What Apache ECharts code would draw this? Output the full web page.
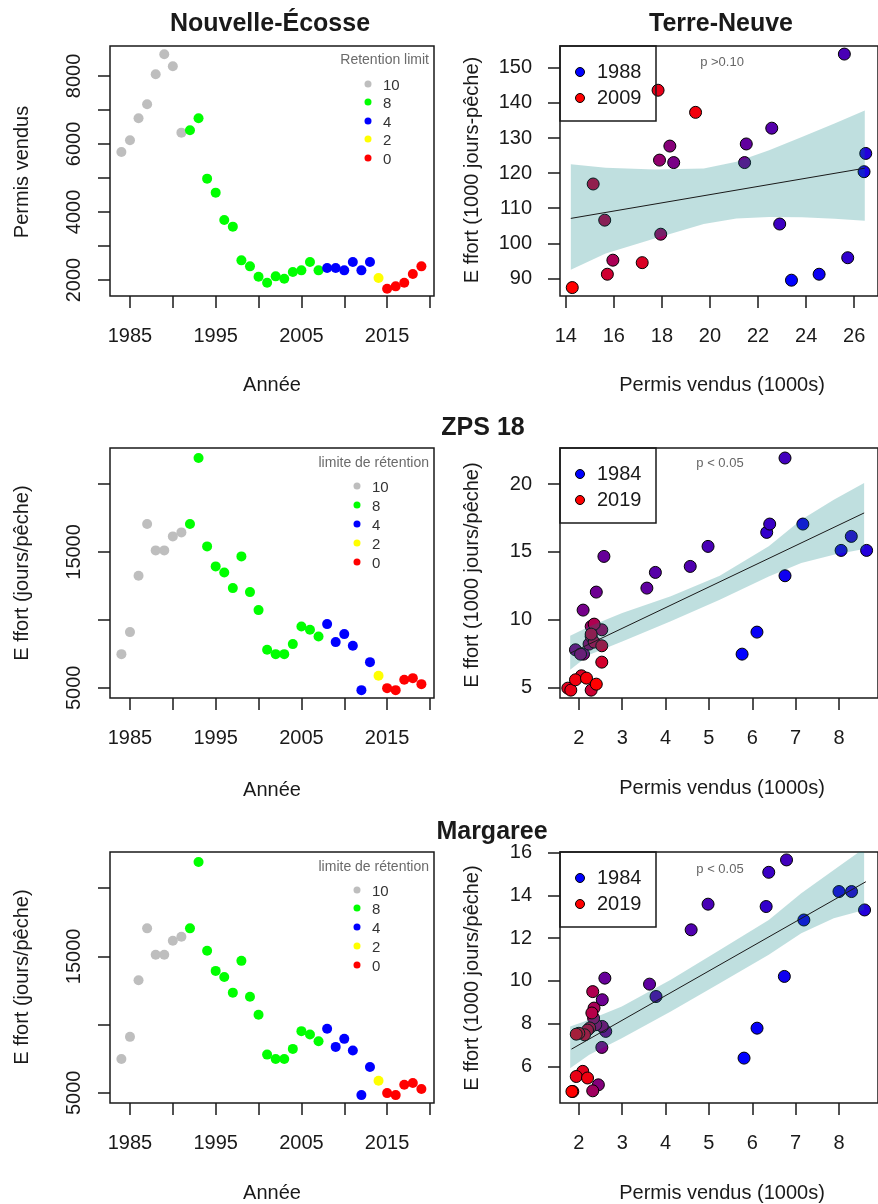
<!DOCTYPE html>
<html>
<head>
<meta charset="utf-8">
<title>Permis vendus et effort</title>
<script src="https://cdn.jsdelivr.net/npm/echarts@6/dist/echarts.min.js"></script>
<style>
    html, body { margin: 0; padding: 0; background: #fff; overflow: hidden; }
    #chart { width: 878px; height: 1204px; }
</style>
</head>
<body>
<div id="chart"></div>
<script>
(function () {
    'use strict';

    // ---- data ----
    var years = [1984, 1985, 1986, 1987, 1988, 1989, 1990, 1991, 1992, 1993,
        1994, 1995, 1996, 1997, 1998, 1999, 2000, 2001, 2002, 2003,
        2004, 2005, 2006, 2007, 2008, 2009, 2010, 2011, 2012, 2013,
        2014, 2015, 2016, 2017, 2018, 2019];
    var retention = [10, 10, 10, 10, 10, 10, 10, 10, 8, 8,
        8, 8, 8, 8, 8, 8, 8, 8, 8, 8,
        8, 8, 8, 8, 4, 4, 4, 4, 4, 4,
        2, 0, 0, 0, 0, 0];
    // Nouvelle-Ecosse, permis vendus
    var nsPermits = [5765, 6108, 6755, 7167, 8049, 8637, 8284, 6333, 6402, 6755,
        4980, 4569, 3765, 3569, 2578, 2402, 2098, 1922, 2108, 2039,
        2235, 2284, 2529, 2284, 2353, 2353, 2284, 2529, 2284, 2529,
        2059, 1745, 1814, 1922, 2176, 2402];
    // ZPS 18, effort (jours/peche)
    var zpsEffort = [7479, 9099, 13248, 17052, 15113, 15113, 16145, 16439, 17052, 21913,
        15408, 13935, 13493, 12339, 14671, 12045, 10719, 7798, 7479, 7479,
        8216, 9517, 9271, 8780, 9688, 8363, 8952, 8093, 4828, 6890,
        5884, 4975, 4828, 5589, 5712, 5270];
    // Margaree, effort (jours/peche)
    var margEffort = [7479, 9099, 13248, 17052, 15113, 15113, 16145, 16439, 17052, 21913,
        15408, 13935, 13493, 12339, 14671, 12045, 10719, 7798, 7479, 7479,
        8216, 9517, 9271, 8780, 9688, 8363, 8952, 8093, 4828, 6890,
        5884, 4975, 4828, 5589, 5712, 5270];

    var retentionLevels = [10, 8, 4, 2, 0];
    var retentionColors = ['#BEBEBE', '#00FF00', '#0000FF', '#FFFF00', '#FF0000'];

    // Terre-Neuve scatter
    var tnYears = [1988, 1989, 1990, 1991, 1992, 1993, 1994, 1995, 1996, 1997, 1998,
        1999, 2000, 2001, 2002, 2003, 2004, 2005, 2006, 2007, 2008, 2009];
    var tnPermits = [23.39, 24.54, 26.41, 26.48, 25.73, 22.90, 25.59, 22.57, 21.51, 21.44, 18.49,
        18.33, 17.90, 17.95, 15.96, 15.62, 15.14, 15.73, 17.18, 17.84, 19.40, 14.27];
    var tnEffort = [89.5, 91.2, 120.4, 125.6, 95.9, 105.5, 153.9, 132.8, 128.3, 123.0, 123.0,
        127.7, 123.7, 102.6, 95.2, 106.6, 116.9, 91.2, 94.5, 143.6, 137.3, 87.4];
    var tnBandX = [14.21, 15.66, 17.70, 19.74, 21.10, 22.46, 23.82, 25.18, 26.44];
    var tnBandLo = [92.5, 97.1, 101.4, 105.5, 107.1, 107.5, 107.4, 107.0, 106.4];
    var tnBandHi = [122.5, 121.5, 121.0, 121.3, 123.2, 126.5, 130.3, 134.1, 137.8];
    var tnFitX = [14.21, 26.44];
    var tnFitY = [107.1, 121.4];

    // ZPS 18 band and fit
    var zpsBandX = [1.80, 2.24, 3.00, 4.12, 5.25, 6.38, 7.13, 7.88, 8.58];
    var zpsBandLo = [6.33, 7.43, 8.41, 9.89, 11.48, 13.20, 14.18, 14.80, 15.21];
    var zpsBandHi = [8.83, 9.52, 10.50, 11.73, 13.25, 15.41, 17.37, 18.85, 20.07];
    var zpsFitX = [1.80, 8.58];
    var zpsFitY = [7.55, 17.87];

    // Margaree scatter
    var margPermits = [5.81, 6.11, 6.74, 7.19, 8.00, 8.59, 8.29, 6.32, 6.38, 6.79,
        4.98, 4.59, 3.78, 3.63, 2.60, 2.54, 2.62, 2.53, 2.45, 2.54,
        2.39, 2.34, 2.32, 2.35, 2.32, 2.30, 2.25, 2.20, 2.13, 2.00,
        1.94, 2.09, 1.94, 2.20, 1.86, 1.84];
    var margScatterEffort = [6.39, 7.79, 10.21, 12.85, 14.18, 13.32, 14.18, 13.48, 15.08, 15.66,
        13.59, 12.39, 9.27, 9.85, 10.13, 9.12, 7.64, 6.89, 5.14, 7.87,
        7.95, 8.26, 4.86, 8.73, 9.50, 8.50, 7.80, 7.70, 7.48, 7.55,
        7.51, 5.77, 5.53, 5.46, 4.83, 4.83];
    var margBandX = [1.80, 2.24, 2.99, 4.12, 5.25, 6.38, 7.13, 7.88, 8.58];
    var margBandLo = [5.92, 6.55, 7.32, 8.57, 9.89, 11.22, 12.23, 12.93, 13.32];
    var margBandHi = [7.87, 8.18, 8.80, 10.05, 11.45, 12.85, 14.10, 15.19, 16.20];
    var margFitX = [1.83, 8.62];
    var margFitY = [6.81, 14.64];

    // ---- helpers ----
    var FONT = 'Liberation Sans, Arial, sans-serif';
    var INK = '#1a1a1a';
    var BAND = 'rgba(0,128,128,0.25)';

    var rampColor = function (t) {
        return 'rgb(' + Math.round(255 * t) + ',0,' + Math.round(255 * (1 - t)) + ')';
    };

    var plainNumber = function (v) {
        return String(v);
    };

    var makeAxis = function (gridIndex, min, max, ticks, labels, rotate, margin) {
        return {
            type: 'value',
            gridIndex: gridIndex,
            min: min,
            max: max,
            axisLine: { show: false },
            splitLine: { show: false },
            axisTick: {
                show: true,
                inside: false,
                length: 12,
                customValues: ticks,
                lineStyle: { color: INK, width: 1.5 }
            },
            axisLabel: {
                customValues: labels,
                formatter: plainNumber,
                rotate: rotate,
                margin: margin,
                fontSize: 20,
                fontFamily: FONT,
                color: INK
            }
        };
    };

    var timePoints = function (values) {
        return years.map(function (y, i) {
            return {
                value: [y, values[i]],
                itemStyle: { color: retentionColors[retentionLevels.indexOf(retention[i])] }
            };
        });
    };

    var scatterPoints = function (xs, ys, yrs, y0, y1) {
        return xs.map(function (x, i) {
            return {
                value: [x, ys[i]],
                itemStyle: { color: rampColor((yrs[i] - y0) / (y1 - y0)) }
            };
        });
    };

    var bandSeries = function (idx, bx, lo, hi) {
        return {
            type: 'custom',
            xAxisIndex: idx,
            yAxisIndex: idx,
            z: 3,
            silent: true,
            clip: true,
            data: bx.map(function (x, i) { return [x, lo[i], hi[i]]; }),
            encode: { x: 0, y: [1, 2] },
            renderItem: function (params, api) {
                if (params.dataIndex !== 0) {
                    return;
                }
                var pts = [];
                for (var i = 0; i < bx.length; i++) {
                    pts.push(api.coord([bx[i], hi[i]]));
                }
                for (var j = bx.length - 1; j >= 0; j--) {
                    pts.push(api.coord([bx[j], lo[j]]));
                }
                var cs = params.coordSys;
                return {
                    type: 'polygon',
                    shape: { points: pts },
                    style: { fill: BAND },
                    clipPath: { type: 'rect', shape: { x: cs.x, y: cs.y, width: cs.width, height: cs.height } }
                };
            }
        };
    };

    var fitSeries = function (idx, fx, fy) {
        return {
            type: 'line',
            xAxisIndex: idx,
            yAxisIndex: idx,
            z: 5,
            silent: true,
            symbol: 'none',
            data: fx.map(function (x, i) { return [x, fy[i]]; }),
            lineStyle: { color: INK, width: 1 }
        };
    };

    var text = function (str, x, y, size, opts) {
        opts = opts || {};
        return {
            type: 'text',
            x: x,
            y: y,
            rotation: opts.rotate ? Math.PI / 2 : 0,
            z: 100,
            style: {
                text: str,
                font: (opts.bold ? 'bold ' : '') + size + 'px ' + FONT,
                fill: opts.color || INK,
                align: opts.align || 'center',
                verticalAlign: 'middle',
                textAlign: opts.align || 'center',
                textVerticalAlign: 'middle'
            }
        };
    };

    var retentionLegend = function (title, titleY, dotX, ys) {
        var els = [text(title, 429, titleY, 14, { align: 'right', color: '#6a6a6a' })];
        retentionLevels.forEach(function (lvl, i) {
            els.push({
                type: 'circle', z: 100,
                shape: { cx: dotX, cy: ys[i], r: 3.5 },
                style: { fill: retentionColors[i] }
            });
            els.push(text(String(lvl), dotX + 15, ys[i] + 2, 15, { align: 'left', color: '#333' }));
        });
        return els;
    };

    var yearLegend = function (top, first, last) {
        return [
            {
                type: 'rect', z: 100,
                shape: { x: 560, y: top, width: 96, height: 75 },
                style: { fill: 'none', stroke: INK, lineWidth: 1.5 }
            },
            { type: 'circle', z: 100, shape: { cx: 580, cy: top + 26, r: 4.5 }, style: { fill: '#0000FF', stroke: '#000', lineWidth: 1 } },
            { type: 'circle', z: 100, shape: { cx: 580, cy: top + 52, r: 4.5 }, style: { fill: '#FF0000', stroke: '#000', lineWidth: 1 } },
            text(first, 597, top + 26, 20, { align: 'left' }),
            text(last, 597, top + 52, 20, { align: 'left' })
        ];
    };

    // ---- layout ----
    var grids = [
        { left: 110, top: 46, width: 324, height: 250 },
        { left: 560, top: 46, width: 325, height: 250 },
        { left: 110, top: 448, width: 324, height: 250 },
        { left: 560, top: 448, width: 325, height: 250 },
        { left: 110, top: 852, width: 324, height: 251 },
        { left: 560, top: 852, width: 325, height: 251 }
    ].map(function (g) {
        g.show = true;
        g.borderColor = INK;
        g.borderWidth = 1.5;
        g.containLabel = false;
        return g;
    });

    var yearTicks = [1985, 1990, 1995, 2000, 2005, 2010, 2015, 2020];
    var yearLabels = [1985, 1995, 2005, 2015];
    var permitTicks = [2, 3, 4, 5, 6, 7, 8];

    var xAxes = [
        makeAxis(0, 1982.67, 2020.47, yearTicks, yearLabels, 0, 30),
        makeAxis(1, 13.76, 26.99, [14, 16, 18, 20, 22, 24, 26], [14, 16, 18, 20, 22, 24, 26], 0, 30),
        makeAxis(2, 1982.67, 2020.47, yearTicks, yearLabels, 0, 30),
        makeAxis(3, 1.565, 8.9, permitTicks, permitTicks, 0, 30),
        makeAxis(4, 1982.67, 2020.47, yearTicks, yearLabels, 0, 30),
        makeAxis(5, 1.565, 8.9, permitTicks, permitTicks, 0, 30)
    ];
    var effortTicks = [5000, 10000, 15000, 20000];
    var effortLabels = [5000, 15000];
    var yAxes = [
        makeAxis(0, 1530, 8880, [2000, 3000, 4000, 5000, 6000, 7000, 8000], [2000, 4000, 6000, 8000], 90, 26),
        makeAxis(1, 85, 156.2, [90, 100, 110, 120, 130, 140, 150], [90, 100, 110, 120, 130, 140, 150], 0, 28),
        makeAxis(2, 4250, 22650, effortTicks, effortLabels, 90, 26),
        makeAxis(3, 4.25, 22.65, [5, 10, 15, 20], [5, 10, 15, 20], 0, 28),
        makeAxis(4, 4250, 22650, effortTicks, effortLabels, 90, 26),
        makeAxis(5, 4.29, 16.03, [6, 8, 10, 12, 14, 16], [6, 8, 10, 12, 14, 16], 0, 28)
    ];

    var leftScatter = function (idx, values) {
        return {
            type: 'scatter', xAxisIndex: idx, yAxisIndex: idx, z: 2,
            symbolSize: 10,
            itemStyle: { opacity: 1 },
            data: timePoints(values)
        };
    };
    var rightScatter = function (idx, data) {
        return {
            type: 'scatter', xAxisIndex: idx, yAxisIndex: idx, z: 2,
            symbolSize: 12,
            itemStyle: { borderColor: '#000', borderWidth: 1, opacity: 1 },
            data: data
        };
    };

    var series = [
        leftScatter(0, nsPermits),
        rightScatter(1, scatterPoints(tnPermits, tnEffort, tnYears, 1988, 2009)),
        bandSeries(1, tnBandX, tnBandLo, tnBandHi),
        fitSeries(1, tnFitX, tnFitY),
        leftScatter(2, zpsEffort),
        rightScatter(3, scatterPoints(
            nsPermits.map(function (p) { return p / 1000; }),
            zpsEffort.map(function (e) { return e / 1000; }),
            years, 1984, 2019)),
        bandSeries(3, zpsBandX, zpsBandLo, zpsBandHi),
        fitSeries(3, zpsFitX, zpsFitY),
        leftScatter(4, margEffort),
        rightScatter(5, scatterPoints(margPermits, margScatterEffort, years, 1984, 2019)),
        bandSeries(5, margBandX, margBandLo, margBandHi),
        fitSeries(5, margFitX, margFitY)
    ];

    var graphic = [
        text('Nouvelle-Écosse', 270, 24, 25, { bold: true }),
        text('Terre-Neuve', 721, 24, 25, { bold: true }),
        text('ZPS 18', 483, 428, 25, { bold: true }),
        text('Margaree', 492, 832, 25, { bold: true }),

        text('Année', 272, 385, 20),
        text('Année', 272, 790, 20),
        text('Année', 272, 1193, 20),
        text('Permis vendus (1000s)', 722, 385, 20),
        text('Permis vendus (1000s)', 722, 788, 20),
        text('Permis vendus (1000s)', 722, 1193, 20),
        text('Permis vendus', 22, 172, 20, { rotate: true }),
        text('E ffort (jours/pêche)', 22, 573, 20, { rotate: true }),
        text('E ffort (jours/pêche)', 22, 977, 20, { rotate: true }),
        text('E ffort (1000 jours-pêche)', 472, 170, 20, { rotate: true }),
        text('E ffort (1000 jours/pêche)', 472, 575, 20, { rotate: true }),
        text('E ffort (1000 jours/pêche)', 472, 978, 20, { rotate: true }),

        text('p >0.10', 722, 62, 13, { color: '#666' }),
        text('p < 0.05', 720, 463, 13, { color: '#666' }),
        text('p < 0.05', 720, 869, 13, { color: '#666' })
    ].concat(
        retentionLegend('Retention limit', 60, 368, [84, 102, 121, 139, 158]),
        retentionLegend('limite de rétention', 463, 357, [486, 505, 524, 543, 562]),
        retentionLegend('limite de rétention', 867, 357, [890, 908, 927, 946, 965]),
        yearLegend(46, '1988', '2009'),
        yearLegend(448, '1984', '2019'),
        yearLegend(852, '1984', '2019')
    );

    var chart = echarts.init(document.getElementById('chart'), null, { renderer: 'canvas' });
    chart.setOption({
        animation: false,
        backgroundColor: '#fff',
        textStyle: { fontFamily: FONT },
        grid: grids,
        xAxis: xAxes,
        yAxis: yAxes,
        series: series,
        graphic: graphic
    });
}());
</script>
</body>
</html>
